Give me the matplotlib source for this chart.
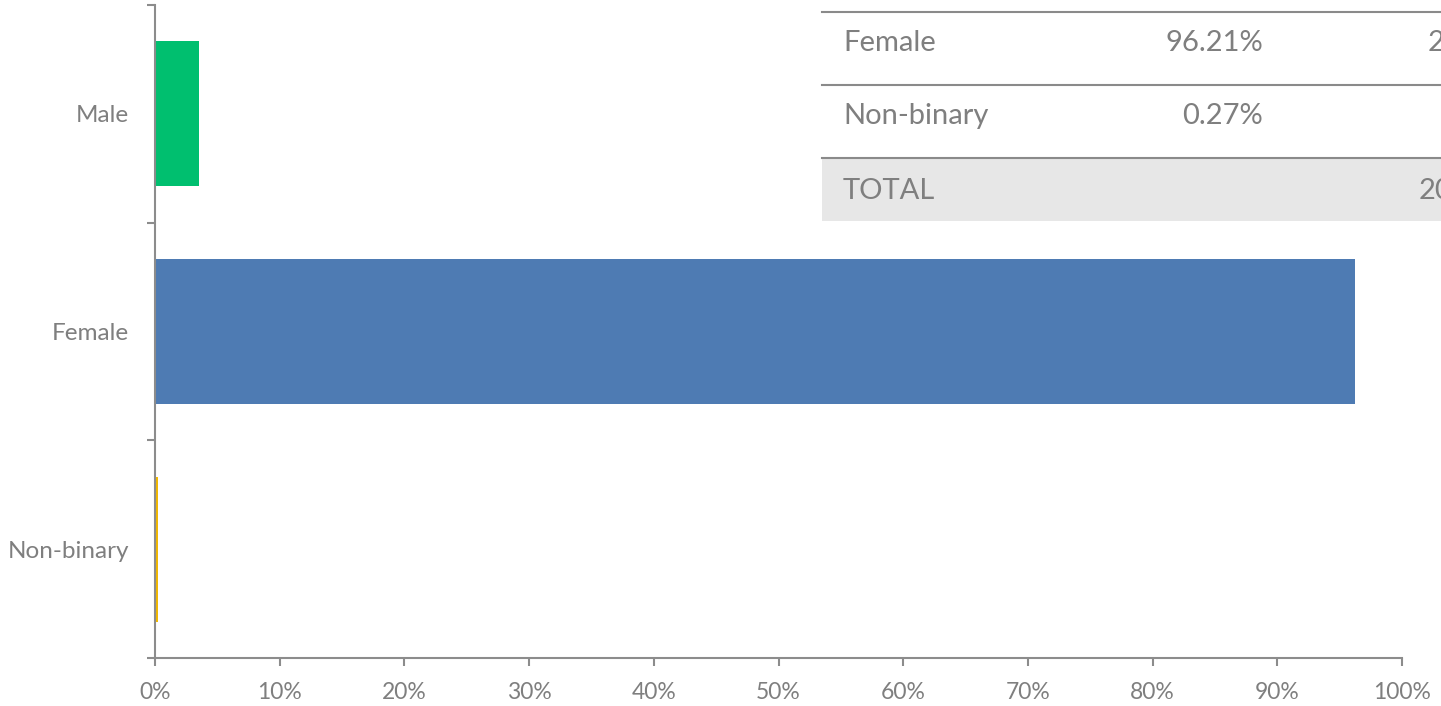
import matplotlib
matplotlib.use("Agg")
import matplotlib.pyplot as plt
from matplotlib.patches import Rectangle
from matplotlib.lines import Line2D
from matplotlib.ticker import PercentFormatter

categories = ["Male", "Female", "Non-binary"]
values = [3.52, 96.21, 0.27]
colors = ["#00BF6F", "#4E7BB3", "#F2B800"]
xticks = [0, 10, 20, 30, 40, 50, 60, 70, 80, 90, 100]

table_rows = ["Female", "Non-binary"]
table_pcts = ["96.21%", "0.27%"]
table_counts_visible = ["2", ""]
total_label = "TOTAL"
total_count_visible = "20"

TXT = "#7F7F7F"
AX = "#8C8C8C"
plt.rcParams['font.family'] = ['Lato', 'DejaVu Sans']

W, H = 1441, 706
fig = plt.figure(figsize=(W / 100, H / 100), dpi=100)
ax = fig.add_axes([155 / W, 1 - 658 / H, (1402 - 155) / W, (658 - 5) / H])

ypos = list(range(len(categories)))
ax.barh(ypos, values, height=0.665, color=colors)
ax.set_ylim(len(categories) - 0.5, -0.5)
ax.set_xlim(0, 100)
ax.set_xticks(xticks)
ax.xaxis.set_major_formatter(PercentFormatter(decimals=0))
ax.set_yticks([y - 0.5 for y in ypos] + [len(categories) - 0.5])
ax.set_yticklabels([])
ax.set_yticks(ypos, minor=True)
ax.set_yticklabels(categories, minor=True)
ax.tick_params(axis='y', which='minor', length=0, pad=18.5, labelsize=17.5, labelcolor=TXT)
ax.tick_params(axis='y', which='major', length=5.5, color=AX, width=1.5)
ax.tick_params(axis='x', length=6, color=AX, width=1.5, labelsize=16.5, labelcolor=TXT, pad=11)
for s in ["top", "right"]:
    ax.spines[s].set_visible(False)
for s in ["left", "bottom"]:
    ax.spines[s].set_color(AX)
    ax.spines[s].set_linewidth(1.5)

def fx(px):
    return px / W

def fy(py):
    return 1 - py / H

# table overlay
fig.add_artist(Rectangle((fx(822), fy(221)), fx(W - 822) + 0.01, (221 - 158) / H,
                         transform=fig.transFigure, facecolor="#E7E7E7", edgecolor="none"))
for py in [12, 85, 158]:
    fig.add_artist(Line2D([fx(822), 1.01], [fy(py), fy(py)], transform=fig.transFigure,
                          color="#8A8A8A", lw=1.5))
row_y = [43, 116]
for lbl, pct, cnt, py in zip(table_rows, table_pcts, table_counts_visible, row_y):
    fig.text(fx(843), fy(py), lbl, ha="left", va="center", fontsize=21, color=TXT)
    fig.text(fx(1263), fy(py), pct, ha="right", va="center", fontsize=21, color=TXT)
    if cnt:
        fig.text(fx(1428), fy(py), cnt, ha="left", va="center", fontsize=21, color=TXT)
fig.text(fx(843), fy(191), total_label, ha="left", va="center", fontsize=21, color=TXT)
fig.text(fx(1419), fy(191), total_count_visible, ha="left", va="center", fontsize=21, color=TXT)

fig.savefig("out.png", dpi=100)
